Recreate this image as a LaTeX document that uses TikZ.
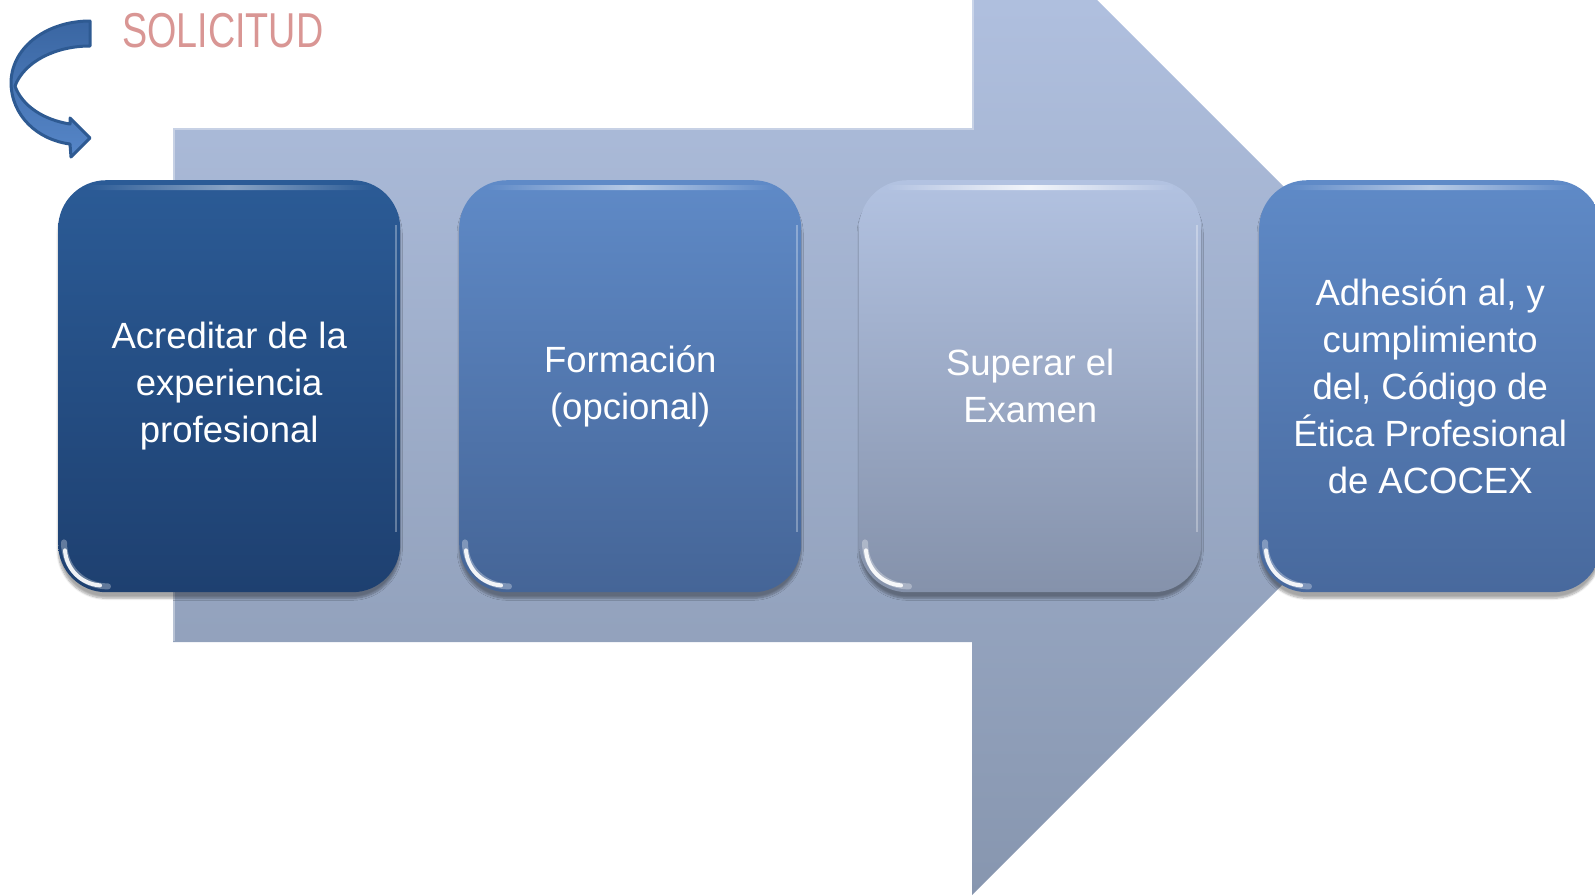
\documentclass[tikz,border=0pt]{standalone}
\usepackage{fontspec}
\setmainfont{Liberation Sans}
\usetikzlibrary{shadows.blur}
\definecolor{arrtop}{HTML}{B5C5E5}
\definecolor{arrbot}{HTML}{8796AF}
\definecolor{b1top}{HTML}{2B5B96}
\definecolor{b1bot}{HTML}{1E4070}
\definecolor{b2top}{HTML}{5F8AC7}
\definecolor{b2bot}{HTML}{456597}
\definecolor{b3top}{HTML}{B2C2E1}
\definecolor{b3bot}{HTML}{8592AB}
\definecolor{b4top}{HTML}{5F8AC7}
\definecolor{b4bot}{HTML}{48699D}
\definecolor{soltxt}{HTML}{D99694}
\definecolor{carrtop}{HTML}{3A66A2}
\definecolor{carrbot}{HTML}{5686C8}
\definecolor{carrline}{HTML}{2E5A92}
\tikzset{
  stepbox/.style={rectangle, rounded corners=48pt, minimum width=342pt,
    minimum height=412pt, anchor=north west, text=white, align=center,
    font=\fontsize{36.5}{47}\selectfont,
    blur shadow={shadow xshift=0pt, shadow yshift=-6pt, shadow blur steps=8, shadow opacity=35}},
  hlcornerwide/.style={white, line width=6pt, line cap=round, opacity=0.3},
  hlcorner/.style={white, line width=4pt, line cap=round, opacity=0.9}
}
\begin{document}
\begin{tikzpicture}[x=1pt,y=-1pt]
\useasboundingbox (0,0) rectangle (1595,895);
\clip (0,0) rectangle (1595,895);
% big arrow
\path[top color=arrtop, bottom color=arrbot]
  (173,128) -- (972,128) -- (972,-125) -- (1482,385) -- (972,895) -- (972,642) -- (173,642) -- cycle;
\draw[white, opacity=0.35, line width=2pt]
  (174,641) -- (174,129) -- (973,129) -- (973,-125);
% boxes
\node[stepbox, top color=b1top, bottom color=b1bot] (b1) at (58,180)
  {Acreditar de la\\experiencia\\profesional};
\node[stepbox, top color=b2top, bottom color=b2bot] (b2) at (459,180)
  {Formación\\(opcional)};
\node[stepbox, top color=b3top, bottom color=b3bot] (b3) at (859,180)
  {Superar el\\Examen};
\node[stepbox, top color=b4top, bottom color=b4bot] (b4) at (1259,180)
  {Adhesión al, y\\cumplimiento\\del, Código de\\Ética Profesional\\de ACOCEX};
\foreach \b/\c/\m in {b1/b1top/45,b2/b2top/55,b3/b3top/85,b4/b4top/55}{
  \path[left color=\c, right color=\c, middle color=white!\m!\c, rounded corners=2pt]
    ([xshift=28pt,yshift=-5pt]\b.north west) rectangle ([xshift=-28pt,yshift=-10pt]\b.north east);
  \draw[hlcornerwide] ([xshift=6pt,yshift=50pt]\b.south west)
    .. controls ([xshift=6pt,yshift=25pt]\b.south west) and ([xshift=25pt,yshift=6pt]\b.south west)
    .. ([xshift=50pt,yshift=6pt]\b.south west);
  \draw[hlcorner] ([xshift=7pt,yshift=42pt]\b.south west)
    .. controls ([xshift=8.5pt,yshift=23pt]\b.south west) and ([xshift=23pt,yshift=8.5pt]\b.south west)
    .. ([xshift=42pt,yshift=7pt]\b.south west);
  \draw[white, opacity=0.3, line width=2pt] ([xshift=-4pt,yshift=-45pt]\b.north east) -- ([xshift=-4pt,yshift=60pt]\b.south east);
}
% title
\node[anchor=base west, text=soltxt, font=\fontsize{49}{49}\selectfont, inner sep=0pt] (sol) at (122,47)
  {\scalebox{0.77}[1]{SOLICITUD}};
% curved arrow
\path[top color=carrtop, bottom color=carrbot, draw=carrline, line width=3pt, line join=round]
  (90,21) .. controls (48,21) and (12,46) .. (11,82)
  .. controls (11,116) and (38,140) .. (70,144)
  -- (71,157) -- (90,138) -- (70,118) -- (70,124)
  .. controls (44,120) and (22,106) .. (15,86)
  .. controls (24,62) and (55,46) .. (90,46) -- cycle;
\end{tikzpicture}
\end{document}
